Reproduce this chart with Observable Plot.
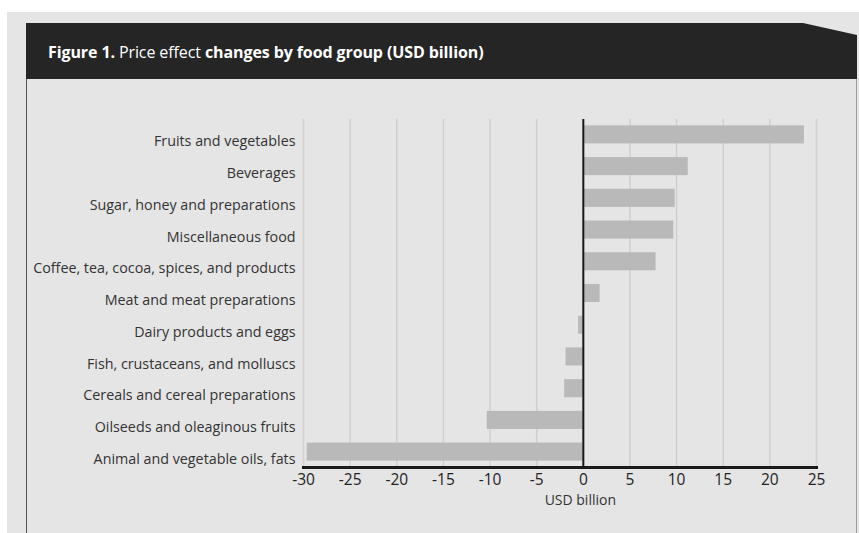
<!DOCTYPE html>
<html>
<head>
<meta charset="utf-8">
<script src="https://cdn.jsdelivr.net/npm/d3@7"></script>
<script src="https://cdn.jsdelivr.net/npm/@observablehq/plot@0.6"></script>
<style>
  html, body { margin: 0; padding: 0; background: #ffffff; width: 859px; height: 533px; overflow: hidden; }
  #bg { position: absolute; left: 7px; top: 12px; width: 852px; height: 521px; background: #e5e5e5; }
  #header { position: absolute; left: 26px; top: 23px; width: 831px; height: 56px; background: #252525;
    clip-path: polygon(0 0, 777px 0, 831px 12px, 831px 56px, 0 56px); }
  #title { position: absolute; left: 48px; top: 41px; color: #ffffff; font-family: "Open Sans", sans-serif;
    font-size: 16px; line-height: 22px; letter-spacing: -0.1px; white-space: nowrap; }
  #title b { font-weight: 700; }
  #lborder { position: absolute; left: 26px; top: 79px; width: 1px; height: 454px; background: #555555; }
  #rborder { position: absolute; left: 856px; top: 79px; width: 1px; height: 454px; background: #9a9a9a; }
  #chart { position: absolute; left: 26px; top: 79px; }
</style>
</head>
<body>
<div id="bg"></div>
<div id="header"></div>
<div id="title"><b>Figure 1.</b> Price effect <b>changes by food group (USD billion)</b></div>
<div id="lborder"></div>
<div id="rborder"></div>
<div id="chart"></div>
<script>
const categories = [
  "Fruits and vegetables",
  "Beverages",
  "Sugar, honey and preparations",
  "Miscellaneous food",
  "Coffee, tea, cocoa, spices, and products",
  "Meat and meat preparations",
  "Dairy products and eggs",
  "Fish, crustaceans, and molluscs",
  "Cereals and cereal preparations",
  "Oilseeds and oleaginous fruits",
  "Animal and vegetable oils, fats"
];
const values = [23.7, 11.25, 9.85, 9.7, 7.8, 1.8, -0.5, -1.85, -2.0, -10.3, -29.6];
const xTicks = [-30, -25, -20, -15, -10, -5, 0, 5, 10, 15, 20, 25];
const xTickLabels = ["-30", "-25", "-20", "-15", "-10", "-5", "0", "5", "10", "15", "20", "25"];
const axisTitle = "USD billion";

const data = categories.map((c, i) => ({category: c, value: values[i]}));

const chart = Plot.plot({
  width: 831,
  height: 454,
  marginLeft: 277,
  marginRight: 41,
  marginTop: 40,
  marginBottom: 66,
  style: {background: "transparent", fontFamily: "'Open Sans', sans-serif", overflow: "visible"},
  x: {domain: [-30, 25]},
  y: {domain: categories, paddingInner: 0.43, paddingOuter: 0.2, round: false},
  marks: [
    Plot.gridX(xTicks, {stroke: "#cfcfcf", strokeOpacity: 1, strokeWidth: 1.5}),
    Plot.barX(data, {x: "value", y: "category", fill: "#b9b9b9"}),
    Plot.ruleX([0], {stroke: "#1a1a1a", strokeWidth: 2}),
    Plot.frame({anchor: "bottom", stroke: "#1a1a1a", strokeWidth: 3}),
    Plot.axisX(xTicks, {tickSize: 0, tickPadding: 6, fontSize: 15.5, fill: "#222222",
      tickFormat: (d) => xTickLabels[xTicks.indexOf(d)], label: null}),
    Plot.axisY({tickSize: 0, tickPadding: 8, dy: 7, fontSize: 14.3, fill: "#333333", label: null}),
    Plot.text([0], {x: (d) => d, text: () => axisTitle, frameAnchor: "bottom", dy: 37, dx: -3,
      fontSize: 14, fill: "#333333"})
  ]
});
document.getElementById("chart").appendChild(chart);
</script>
</body>
</html>
